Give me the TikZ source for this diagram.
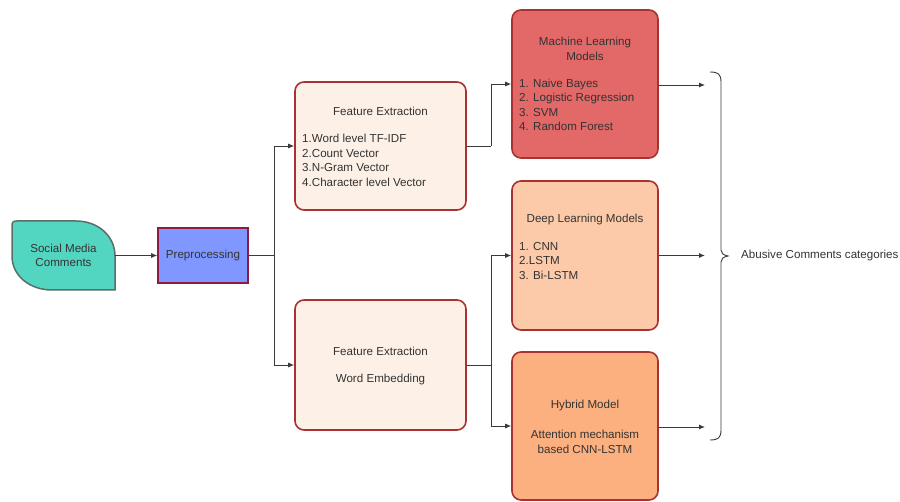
\documentclass[tikz,border=0pt]{standalone}
\usepackage{fontspec}
\setmainfont{Liberation Sans}
\usetikzlibrary{arrows.meta}
\definecolor{txt}{HTML}{333333}
\definecolor{ln}{HTML}{3A3A3A}
\definecolor{socfill}{HTML}{52D6C2}
\definecolor{socbord}{HTML}{5A6E6A}
\definecolor{prefill}{HTML}{7F97FF}
\definecolor{prebord}{HTML}{8E1B45}
\definecolor{fefill}{HTML}{FDF1E7}
\definecolor{redbord}{HTML}{A83232}
\definecolor{mlfill}{HTML}{E36868}
\definecolor{dlfill}{HTML}{FCCAA9}
\definecolor{hyfill}{HTML}{FCB07F}
\tikzset{
  box/.style={draw=redbord, line width=1.6pt, rounded corners=9pt, inner sep=0pt},
  lbl/.style={text=txt, font=\fontsize{11.6}{14.6}\selectfont, inner sep=0pt},
  conn/.style={draw=ln, line width=0.9pt},
  arr/.style={conn, -{Latex[length=6pt,width=5pt]}}
}
\begin{document}
\begin{tikzpicture}[x=1pt,y=-1pt]
\useasboundingbox[fill=white] (0,0) rectangle (900,502);
% Social media comments
\node[minimum width=103pt, minimum height=69pt, inner sep=0pt] (soc) at (63.5,255.5) {};
\fill[socfill, draw=socbord, line width=1.5pt]
  (12,226) .. controls (12,222) and (13,221) .. (17,221) -- (76,221)
  .. controls (98,221) and (115,236) .. (115,256) -- (115,290) -- (52,290)
  .. controls (30,290) and (12,276) .. (12,256) -- cycle;
\node[lbl, align=center] at (soc) {Social Media\\Comments};
% Preprocessing
\node[draw=prebord, fill=prefill, line width=1.6pt, minimum width=90pt, minimum height=55pt, inner sep=0pt, lbl, text=txt] (pre) at (203,255.5) {Preprocessing};
% Feature extraction boxes
\node[box, fill=fefill, minimum width=171pt, minimum height=128pt] (fe1) at (380.5,146) {};
\node[lbl] at (380.5,111) {Feature Extraction};
\node[lbl, align=left, anchor=north west] at (302,134) {1.Word level TF-IDF\\2.Count Vector\\3.N-Gram Vector\\4.Character level Vector};
\node[box, fill=fefill, minimum width=171pt, minimum height=130pt] (fe2) at (380.5,365) {};
\node[lbl] at (380.5,351) {Feature Extraction};
\node[lbl] at (380.5,380) {Word Embedding};
% Model boxes
\node[box, fill=mlfill, minimum width=146pt, minimum height=148pt] (ml) at (585,84) {};
\node[lbl, align=center] at (585,49) {Machine Learning\\Models};
\node[lbl, align=left, anchor=north west] at (519,78.5) {1. Naive Bayes\\2. Logistic Regression\\3. SVM\\4. Random Forest};
\node[box, fill=dlfill, minimum width=146pt, minimum height=149pt] (dl) at (585,255.5) {};
\node[lbl] at (585,220) {Deep Learning Models};
\node[lbl, align=left, anchor=north west] at (519,242) {1. CNN\\2.LSTM\\3. Bi-LSTM};
\node[box, fill=hyfill, minimum width=146pt, minimum height=148pt] (hy) at (585,426) {};
\node[lbl] at (585,406) {Hybrid Model};
\node[lbl, align=center] at (585,442) {Attention mechanism\\based CNN-LSTM};
% connectors
\coordinate (j1) at (274,255.5);
\coordinate (j2) at (491,146);
\coordinate (j3) at (491,365);
\draw[arr] (soc.east) -- (pre.west);
\draw[conn] (pre.east) -- (j1);
\draw[arr] (j1) |- (fe1.west);
\draw[arr] (j1) |- (fe2.west);
\draw[conn] (fe1.east) -- (j2);
\draw[arr] (j2) |- (ml.west);
\draw[conn] (fe2.east) -- (j3);
\draw[arr] (j3) |- (dl.west);
\draw[arr] (j3) |- (hy.west);
\coordinate (e1) at (705,85);
\coordinate (e2) at (705,255.5);
\coordinate (e3) at (705,427);
\draw[arr] (ml.east |- e1) -- (e1);
\draw[arr] (dl.east |- e2) -- (e2);
\draw[arr] (hy.east |- e3) -- (e3);
% brace
\coordinate (bt) at (710,72);
\coordinate (bb) at (710,440);
\coordinate (tip) at (728,256);
\draw[draw=ln, line width=0.9pt] (bt) .. controls (718,72) and (721,74) .. (721,82) -- (721,250)
  .. controls (721,253) and (723,255) .. (tip)
  .. controls (723,257) and (721,259) .. (721,262) -- (721,430)
  .. controls (721,438) and (718,440) .. (bb);
\node[lbl, anchor=west] (cat) at (741,256) {Abusive Comments categories};
\end{tikzpicture}
\end{document}
